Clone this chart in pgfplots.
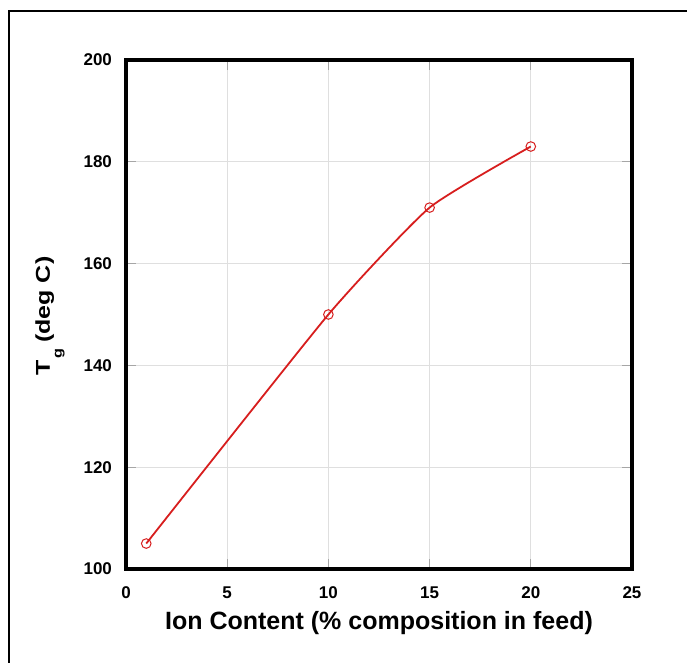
\documentclass[border=0pt]{standalone}
\usepackage{fontspec}
\setmainfont{Liberation Sans}
\usepackage{graphicx}
\usepackage{pgfplots}
\pgfplotsset{compat=1.18}
\definecolor{tgred}{RGB}{215,30,30}
\begin{document}
\begin{tikzpicture}[x=0.5pt,y=0.5pt]
\useasboundingbox (0,0) rectangle (687,663);
\draw[line width=1pt] (9,0) -- (9,652) -- (687,652);
\begin{axis}[
    at={(63pt,47pt)}, anchor=south west,
    scale only axis, width=253pt, height=254.5pt,
    xmin=0, xmax=25, ymin=100, ymax=200,
    xtick={0,5,...,25}, ytick={100,120,...,200},
    grid=major,
    major grid style={gray!25, line width=0.4pt},
    axis line style={line width=2pt},
    tick style={gray!70, line width=0.4pt},
    tick align=inside, major tick length=5pt,
    /pgf/number format/assume math mode=true,
    ticklabel style={font=\bfseries\fontsize{8.5}{10}\selectfont},
    xticklabel style={anchor=base, yshift=-15pt},
    yticklabel style={xshift=-3.5pt},
    xlabel={Ion Content (\% composition in feed)},
    xlabel style={at={(axis description cs:0.5,0)}, anchor=base, yshift=-30.5pt,
                  font=\bfseries\fontsize{12.5}{14}\selectfont},
    ylabel={\scalebox{1.25}[1]{T\hspace{0.5pt}\raisebox{-6pt}{\fontsize{6.5}{7}\selectfont g}\hspace{2.5pt}(deg C)}},
    ylabel style={at={(axis description cs:-0.1502,0.497)}, anchor=base,
                  font=\bfseries\fontsize{10}{12}\selectfont},
]
\addplot[tgred, line width=0.9pt, smooth, tension=0.3, mark=o, mark size=2.4pt,
         mark options={line width=0.5pt}]
    coordinates {(1,105) (10,150) (15,171) (20,183)};
\end{axis}
\end{tikzpicture}
\end{document}
